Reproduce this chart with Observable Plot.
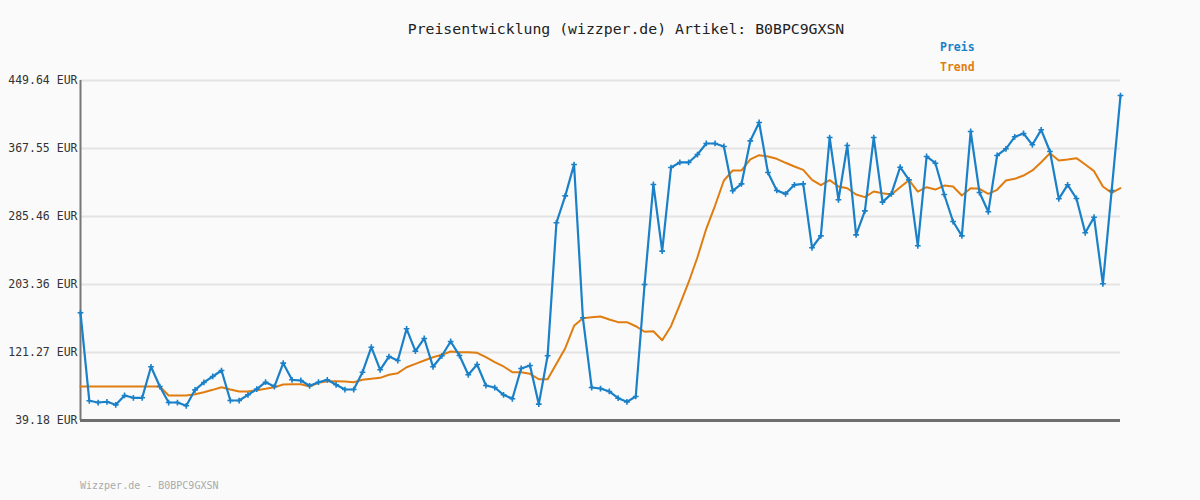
<!DOCTYPE html>
<html>
<head>
<meta charset="utf-8">
<script src="https://cdn.jsdelivr.net/npm/d3@7"></script>
<script src="https://cdn.jsdelivr.net/npm/@observablehq/plot@0.6"></script>
<style>
  html, body { margin: 0; padding: 0; background: #fafafa; }
  #wrap { position: relative; width: 1200px; height: 500px; background: #fafafa; font-family: "DejaVu Sans Mono", monospace; }
  #title { position: absolute; left: 0; width: 1252px; top: 20px; text-align: center; font-size: 14.8px; color: #222; }
  .leg { position: absolute; left: 940px; font-size: 11.5px; font-weight: bold; }
  #chart { position: absolute; left: 0; top: 72px; }
  #footer { position: absolute; left: 80px; top: 480px; font-size: 10px; color: #aaa; }
</style>
</head>
<body>
<div id="wrap">
  <div id="title">Preisentwicklung (wizzper.de) Artikel: B0BPC9GXSN</div>
  <div class="leg" style="top:40px;color:#1a80c8">Preis</div>
  <div class="leg" style="top:60px;color:#e07d10">Trend</div>
  <div id="chart"></div>
  <div id="footer">Wizzper.de - B0BPC9GXSN</div>
</div>
<script>
const yTicks = [39.18, 121.27, 203.36, 285.46, 367.55, 449.64];

const price = [169.2, 63.0, 60.9, 61.8, 58.1, 69.4, 66.6, 66.6, 104.0, 80.2,
  60.9, 60.9, 56.9, 76.2, 85.1, 92.3, 99.5, 63.3, 63.3, 70.2,
  77.0, 85.4, 80.2, 108.4, 88.3, 87.5, 81.1, 85.4, 88.3, 82.3,
  76.6, 76.6, 97.5, 127.7, 100.4, 116.4, 111.6, 149.9, 122.9, 138.2,
  104.0, 117.3, 134.6, 117.6, 94.4, 106.8, 81.4, 79.0, 70.2, 65.4,
  102.0, 105.6, 58.9, 117.3, 277.9, 310.4, 348.2, 163.2, 79.0, 77.8,
  74.2, 66.1, 61.7, 68.2, 203.4, 324.1, 243.6, 344.6, 350.7, 350.7,
  360.3, 373.6, 373.6, 370.0, 316.5, 324.9, 376.8, 399.0, 338.6, 316.9,
  312.8, 323.7, 324.9, 247.7, 262.1, 380.8, 305.6, 371.2, 263.3, 292.3,
  380.8, 302.8, 312.8, 345.0, 329.7, 250.1, 357.9, 349.8, 312.0, 279.4,
  262.1, 388.1, 314.4, 291.1, 359.1, 367.2, 381.7, 385.7, 372.0, 390.1,
  363.9, 306.8, 323.7, 307.2, 265.8, 284.6, 204.2, 316.9, 431.5];

const trend = [80.2, 80.2, 80.2, 80.2, 80.2, 80.2, 80.2, 80.2, 80.2, 80.2,
  69.4, 69.4, 69.4, 70.9, 73.3, 76.2, 79.4, 76.6, 74.2, 74.2,
  75.8, 77.4, 79.4, 82.6, 83.0, 83.0, 80.2, 84.7, 86.6, 86.6,
  86.2, 85.4, 88.3, 89.5, 90.7, 94.4, 96.3, 103.5, 107.6, 111.6,
  115.6, 118.5, 122.5, 121.7, 121.7, 120.9, 115.6, 109.6, 104.4, 97.5,
  97.3, 95.5, 89.0, 89.0, 107.6, 126.5, 153.5, 162.7, 163.9, 164.7,
  161.1, 157.9, 157.9, 153.0, 146.3, 147.0, 136.1, 153.0, 179.2, 206.1,
  236.3, 270.6, 298.7, 328.9, 341.0, 341.0, 354.3, 359.5, 357.9, 355.1,
  350.3, 345.8, 341.8, 329.7, 323.3, 329.3, 321.7, 319.6, 312.0, 308.8,
  315.6, 313.6, 312.0, 320.8, 329.3, 315.6, 320.8, 318.0, 322.8, 321.7,
  310.8, 319.6, 318.9, 312.8, 317.7, 328.9, 330.9, 334.9, 341.0, 351.0,
  361.9, 353.1, 354.3, 355.9, 348.2, 340.2, 321.7, 314.0, 319.6];

const blue = "#1a80c8";
const orange = "#e07d10";
const priceData = price.map((v, i) => ({i, v}));
const trendData = trend.map((v, i) => ({i, v}));

const chart = Plot.plot({
  width: 1200,
  height: 370,
  marginLeft: 80,
  marginRight: 80,
  marginTop: 8,
  marginBottom: 22,
  style: {background: "#fafafa", fontFamily: "'DejaVu Sans Mono', monospace", fontSize: "11.5px", color: "#333", overflow: "visible"},
  x: {domain: [0, price.length - 1], axis: null},
  y: {domain: [yTicks[0], yTicks[yTicks.length - 1]], ticks: yTicks, tickSize: 0, tickPadding: 3,
      tickFormat: d => d.toFixed(2) + " EUR", label: null},
  marks: [
    Plot.ruleY(yTicks, {stroke: "#e4e4e4", strokeWidth: 2}),
    Plot.ruleX([0], {stroke: "#777", strokeWidth: 2}),
    Plot.ruleY([yTicks[0]], {stroke: "#6e6e6e", strokeWidth: 3}),
    Plot.line(trendData, {x: "i", y: "v", stroke: orange, strokeWidth: 2}),
    Plot.line(priceData, {x: "i", y: "v", stroke: blue, strokeWidth: 2.2}),
    Plot.dot(priceData, {x: "i", y: "v", symbol: "plus", r: 2, stroke: blue, strokeWidth: 1.6})
  ]
});
document.getElementById("chart").appendChild(chart);
</script>
</body>
</html>
